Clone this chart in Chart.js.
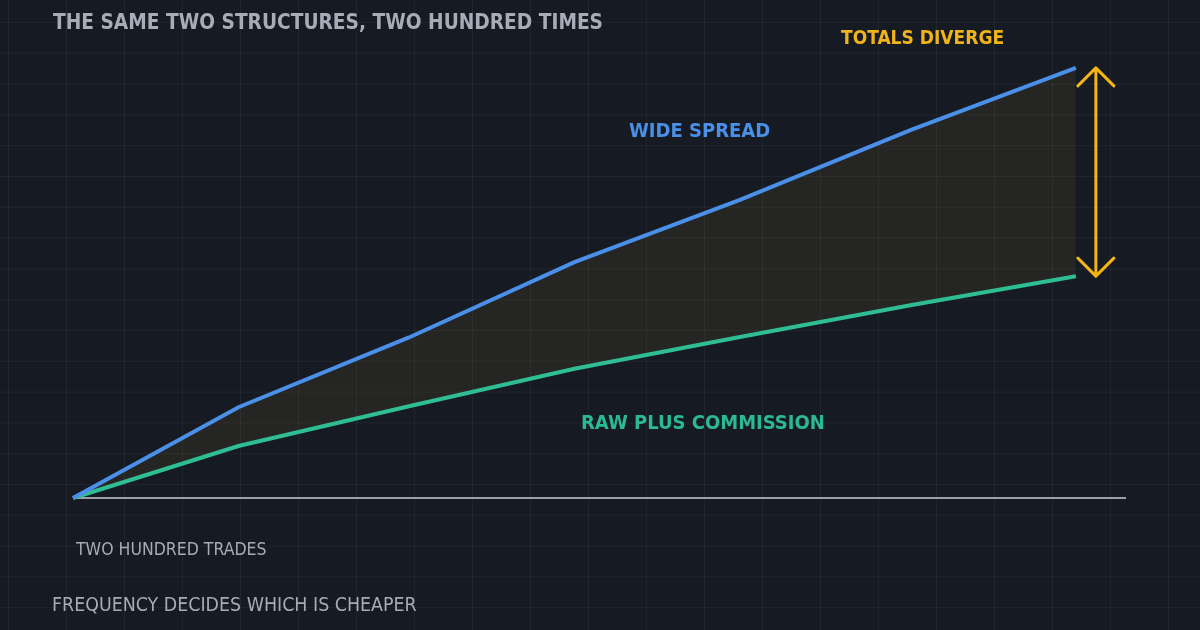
<!DOCTYPE html>
<html>
<head>
<meta charset="utf-8">
<script src="https://cdn.jsdelivr.net/npm/chart.js@4.4.1/dist/chart.umd.min.js"></script>
<style>
  html, body {
    margin: 0;
    padding: 0;
  }
  body {
    width: 1200px;
    height: 630px;
    overflow: hidden;
    position: relative;
    background-color: #161a23;
    background-image:
      linear-gradient(to right, rgba(255,255,255,0.045) 1px, transparent 1px),
      linear-gradient(to bottom, rgba(255,255,255,0.045) 1px, transparent 1px);
    background-size: 58px 100%, 100% 30.8px;
    background-position: 8px 0, 0 22px;
    font-family: "DejaVu Sans Condensed", "DejaVu Sans", sans-serif;
  }
  #wrap {
    position: absolute;
    left: 0;
    top: 0;
    width: 1200px;
    height: 630px;
  }
  .lbl {
    position: absolute;
    white-space: nowrap;
    line-height: 1;
    transform: translateY(-50%);
    font-weight: bold;
  }
</style>
</head>
<body>
<div id="wrap"><canvas id="costChart"></canvas></div>

<div class="lbl" style="left:53px; top:22px; font-size:20.7px; color:#a7acb7;">THE SAME TWO STRUCTURES, TWO HUNDRED TIMES</div>
<div class="lbl" style="left:841px; top:37px; font-size:19px; color:#f0b41a;">TOTALS DIVERGE</div>
<div class="lbl" style="left:629px; top:130px; font-size:20px; color:#4a8fe8;">WIDE SPREAD</div>
<div class="lbl" style="left:581px; top:422px; font-size:20px; color:#2bb894;">RAW PLUS COMMISSION</div>
<div class="lbl" style="left:76px; top:550px; font-size:17.5px; font-weight:normal; color:#a6abb5;">TWO HUNDRED TRADES</div>
<div class="lbl" style="left:52px; top:605px; font-size:19.4px; font-weight:normal; color:#a6abb5;">FREQUENCY DECIDES WHICH IS CHEAPER</div>

<script>
// trades along the x axis
const trades = [0, 33, 67, 100, 133, 167, 200];
// cumulative cost, wide spread account
const wideSpread = [0, 19.4, 34.3, 50.4, 63.7, 78.6, 91.9];
// cumulative cost, raw spread plus commission
const rawCommission = [0, 11.1, 19.6, 27.6, 34.4, 41.2, 47.4];

const blue = '#4a8fe8';
const green = '#2fbd93';
const amber = '#f2b513';

// white baseline at zero cost
const baselinePlugin = {
  id: 'baseline',
  beforeDatasetsDraw(chart) {
    const { ctx, chartArea, scales } = chart;
    const y = scales.y.getPixelForValue(0);
    const x0 = scales.x.getPixelForValue(0);
    ctx.save();
    ctx.strokeStyle = '#c9ccd3';
    ctx.lineWidth = 1.5;
    ctx.beginPath();
    ctx.moveTo(x0, y);
    ctx.lineTo(chartArea.right, y);
    ctx.stroke();
    ctx.restore();
  }
};

// double arrow showing the gap between the two totals
const gapArrowPlugin = {
  id: 'gapArrow',
  afterDatasetsDraw(chart) {
    const { ctx, scales } = chart;
    const last = trades.length - 1;
    const x = scales.x.getPixelForValue(trades[last]) + 20;
    const yTop = scales.y.getPixelForValue(wideSpread[last]);
    const yBot = scales.y.getPixelForValue(rawCommission[last]);
    const head = 18;
    ctx.save();
    ctx.strokeStyle = amber;
    ctx.lineWidth = 3;
    ctx.lineCap = 'round';
    ctx.lineJoin = 'round';
    ctx.beginPath();
    ctx.moveTo(x, yTop);
    ctx.lineTo(x, yBot);
    ctx.moveTo(x - head, yTop + head);
    ctx.lineTo(x, yTop);
    ctx.lineTo(x + head, yTop + head);
    ctx.moveTo(x - head, yBot - head);
    ctx.lineTo(x, yBot);
    ctx.lineTo(x + head, yBot - head);
    ctx.stroke();
    ctx.restore();
  }
};

const ctx = document.getElementById('costChart').getContext('2d');

new Chart(ctx, {
  type: 'line',
  data: {
    datasets: [
      {
        label: 'Wide spread',
        data: trades.map((t, i) => ({ x: t, y: wideSpread[i] })),
        borderColor: blue,
        borderWidth: 4,
        pointRadius: 0,
        tension: 0,
        fill: false,
        clip: false
      },
      {
        label: 'Raw plus commission',
        data: trades.map((t, i) => ({ x: t, y: rawCommission[i] })),
        borderColor: green,
        borderWidth: 4,
        pointRadius: 0,
        tension: 0,
        fill: { target: 0 },
        backgroundColor: 'rgba(240, 180, 40, 0.07)',
        clip: false
      }
    ]
  },
  options: {
    responsive: true,
    maintainAspectRatio: false,
    animation: false,
    layout: {
      padding: { left: 73, right: 74, top: 30, bottom: 132 }
    },
    scales: {
      x: {
        type: 'linear',
        min: 0,
        max: 210,
        display: false
      },
      y: {
        min: 0,
        max: 100,
        display: false
      }
    },
    plugins: {
      legend: { display: false },
      tooltip: { enabled: false }
    }
  },
  plugins: [baselinePlugin, gapArrowPlugin]
});
</script>
</body>
</html>
